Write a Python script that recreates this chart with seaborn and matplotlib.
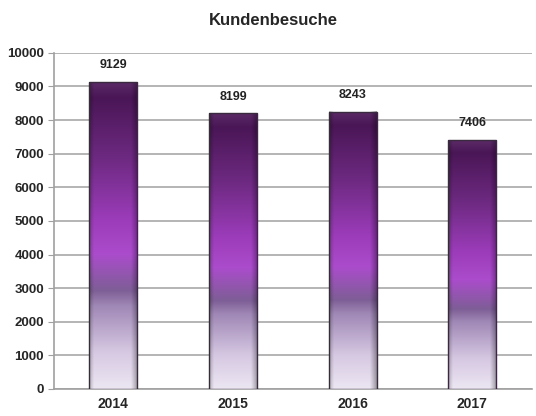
import numpy as np
import pandas as pd
import matplotlib
matplotlib.use("Agg")
import matplotlib.pyplot as plt
import seaborn as sns
from matplotlib.colors import LinearSegmentedColormap

years = ["2014", "2015", "2016", "2017"]
visits = [9129, 8199, 8243, 7406]
yticks = [0, 1000, 2000, 3000, 4000, 5000, 6000, 7000, 8000, 9000, 10000]
title = "Kundenbesuche"

sns.set_style("white")
plt.rcParams['font.family'] = ['Liberation Sans Narrow', 'Liberation Sans', 'DejaVu Sans']

df = pd.DataFrame({"Jahr": years, "Besuche": visits})

fig = plt.figure(figsize=(5.36, 4.16), dpi=100)
ax = fig.add_axes([0.1, 0.065, 0.893, 0.808])

sns.barplot(data=df, x="Jahr", y="Besuche", color="#7a3a90", width=0.4, ax=ax,
            edgecolor="#3a2a40", linewidth=1.0, zorder=3)

# gradient: bottom (0) -> top (1)
cmap = LinearSegmentedColormap.from_list("grad", [
    (0.0, "#ece6f2"),
    (0.12, "#d6c8e2"),
    (0.27, "#a088b6"),
    (0.32, "#7e5e96"),
    (0.44, "#ab4ccc"),
    (0.55, "#9c3cba"),
    (0.75, "#6e2a82"),
    (0.95, "#4a1656"),
    (1.0, "#5a2a66"),
])
grad = np.linspace(0, 1, 256).reshape(-1, 1)
for p in ax.patches:
    x0, y0 = p.get_x(), p.get_y()
    w, h = p.get_width(), p.get_height()
    im = ax.imshow(grad, extent=[x0, x0 + w, y0, y0 + h], origin="lower",
                   aspect="auto", cmap=cmap, zorder=3.5)
    im.set_clip_path(p)
    p.set_facecolor("none")
    p.set_zorder(4)
    # shading sides
    ax.imshow(np.linspace(0, 1, 64).reshape(1, -1), extent=[x0, x0 + w * 0.1, y0, y0 + h],
              aspect="auto", cmap=LinearSegmentedColormap.from_list("s", [(0, 0, 0, 0.25), (0, 0, 0, 0)]),
              zorder=3.6)
    ax.imshow(np.linspace(0, 1, 64).reshape(1, -1), extent=[x0 + w * 0.87, x0 + w, y0, y0 + h],
              aspect="auto", cmap=LinearSegmentedColormap.from_list("s2", [(0, 0, 0, 0), (0, 0, 0, 0.35)]),
              zorder=3.6)
    ax.text(x0 + w / 2, y0 + h + 320, f"{int(round(h))}", ha="center", va="bottom",
            fontsize=9, fontweight="bold", color="#222222")

ax.set_xlim(-0.5, 3.5)
ax.set_ylim(0, 10000)
ax.set_yticks(yticks)
ax.set_yticklabels([str(t) for t in yticks], fontsize=9.5, fontweight="bold")
ax.set_xticks(range(len(years)))
ax.set_xticklabels(years, fontsize=10, fontweight="bold")
ax.tick_params(axis="x", length=0, pad=6)
ax.set_xticks([0.5, 1.5, 2.5, 3.5], minor=True)
ax.tick_params(axis="x", which="minor", length=4, color="#a0a0a0", direction="out")
ax.tick_params(axis="y", length=4, color="#a0a0a0", direction="out", pad=3, left=True)
ax.set_xlabel("")
ax.set_ylabel("")
ax.grid(axis="y", color="#b4b4b4", linewidth=1.4, zorder=0)
ax.set_axisbelow(True)
for s in ["top", "right"]:
    ax.spines[s].set_visible(False)
for s in ["left", "bottom"]:
    ax.spines[s].set_color("#a0a0a0")
    ax.spines[s].set_linewidth(1.2)

fig.text(0.51, 0.95, title, ha="center", va="center", fontsize=12, fontweight="bold")

fig.savefig("out.png", dpi=100)
